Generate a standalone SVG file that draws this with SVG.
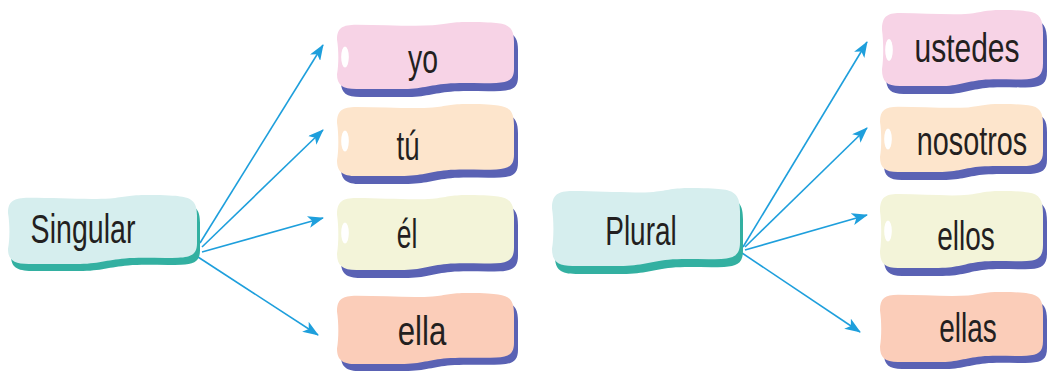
<svg xmlns="http://www.w3.org/2000/svg" xmlns:xlink="http://www.w3.org/1999/xlink" width="1049" height="371" viewBox="0 0 1049 371">
<defs>
<style>
.lbl{font-family:"Liberation Sans",Arial,sans-serif;font-size:40px;fill:#231f20;text-anchor:middle}
.sh{fill:#5a62b4}
.tsh{fill:#33b0a1}
.hl{fill:#ffffff}
.c-cyan{fill:#d6eeee}
.c-pink{fill:#f7d3e6}
.c-peach{fill:#fde5cc}
.c-lime{fill:#f3f4d9}
.c-salmon{fill:#fbcdb9}
.arr{stroke:#1e9fdc;stroke-width:1.6;fill:none;marker-end:url(#ah)}
</style>
<path id="blob" d="M0,26 C0,9 3,4 11,4 C26,4 42,7 54,5 C62,3 64,0 74,0 C84,0 88,1 91,2 C98,4 100,12 100,30 L100,70 C100,86 97,90 90,91 C80,92 70,90 62,92 C52,94 48,100 36,100 L11,100 C3,100 0,94 0,78 C1,64 1,42 0,26 Z"/>
<marker id="ah" viewBox="0 0 16 12" refX="15" refY="6" markerWidth="16" markerHeight="12" markerUnits="userSpaceOnUse" orient="auto">
<path d="M0,0 L16,6 L0,12 L4,6 Z" fill="#1e9fdc"/>
</marker>
</defs>
<rect width="1049" height="371" fill="#ffffff"/>

<g id="connectors">
<line class="arr" x1="200" y1="243" x2="323" y2="45"/>
<line class="arr" x1="202" y1="247" x2="323" y2="130"/>
<line class="arr" x1="202" y1="252" x2="323" y2="218"/>
<line class="arr" x1="198" y1="257" x2="318" y2="335"/>
<line class="arr" x1="743" y1="247" x2="867" y2="42"/>
<line class="arr" x1="745" y1="247" x2="867" y2="128"/>
<line class="arr" x1="745" y1="250" x2="867" y2="215"/>
<line class="arr" x1="742" y1="253" x2="860" y2="332"/>
</g>

<g id="singular" transform="translate(8,195)">
<use xlink:href="#blob" class="tsh" transform="translate(3,7) scale(1.89,0.69)"/>
<use xlink:href="#blob" class="c-cyan" transform="scale(1.89,0.69)"/>
<text class="lbl" transform="translate(75,48) scale(0.714,1)">Singular</text>
</g>

<g id="plural" transform="translate(552,188)">
<use xlink:href="#blob" class="tsh" transform="translate(3,8) scale(1.88,0.78)"/>
<use xlink:href="#blob" class="c-cyan" transform="scale(1.88,0.78)"/>
<text class="lbl" transform="translate(89,57) scale(0.70,1)">Plural</text>
</g>

<g id="yo" transform="translate(337,22)">
<use xlink:href="#blob" class="sh" transform="translate(4,8) scale(1.77,0.67)"/>
<use xlink:href="#blob" class="c-pink" transform="scale(1.77,0.67)"/>
<ellipse class="hl" cx="8" cy="35" rx="3.8" ry="10.5"/>
<text class="lbl" transform="translate(86,51) scale(0.71,1)">yo</text>
</g>

<g id="tu" transform="translate(337,104)">
<use xlink:href="#blob" class="sh" transform="translate(4,8) scale(1.77,0.72)"/>
<use xlink:href="#blob" class="c-peach" transform="scale(1.77,0.72)"/>
<ellipse class="hl" cx="8" cy="37" rx="3.8" ry="10.5"/>
<text class="lbl" transform="translate(71,56) scale(0.69,1)">tú</text>
</g>

<g id="el" transform="translate(337,195)">
<use xlink:href="#blob" class="sh" transform="translate(4,8) scale(1.77,0.75)"/>
<use xlink:href="#blob" class="c-lime" transform="scale(1.77,0.75)"/>
<ellipse class="hl" cx="8" cy="38" rx="3.8" ry="10.5"/>
<text class="lbl" transform="translate(70,53) scale(0.66,1)">él</text>
</g>

<g id="ella" transform="translate(337,293)">
<use xlink:href="#blob" class="sh" transform="translate(4,7) scale(1.77,0.71)"/>
<use xlink:href="#blob" class="c-salmon" transform="scale(1.77,0.71)"/>
<text class="lbl" transform="translate(85,52) scale(0.78,1)">ella</text>
</g>

<g id="ustedes" transform="translate(882,10)">
<use xlink:href="#blob" class="sh" transform="translate(4,8) scale(1.61,0.76)"/>
<use xlink:href="#blob" class="c-pink" transform="scale(1.61,0.76)"/>
<ellipse class="hl" cx="7" cy="40" rx="3.8" ry="11"/>
<text class="lbl" transform="translate(85,52) scale(0.75,1)">ustedes</text>
</g>

<g id="nosotros" transform="translate(880,104)">
<use xlink:href="#blob" class="sh" transform="translate(4,8) scale(1.63,0.68)"/>
<use xlink:href="#blob" class="c-peach" transform="scale(1.63,0.68)"/>
<ellipse class="hl" cx="8" cy="35" rx="3.8" ry="10.5"/>
<text class="lbl" transform="translate(92,51) scale(0.72,1)">nosotros</text>
</g>

<g id="ellos" transform="translate(880,191)">
<use xlink:href="#blob" class="sh" transform="translate(4,8) scale(1.63,0.77)"/>
<use xlink:href="#blob" class="c-lime" transform="scale(1.63,0.77)"/>
<ellipse class="hl" cx="8" cy="40" rx="3.8" ry="10.5"/>
<text class="lbl" transform="translate(86,59) scale(0.70,1)">ellos</text>
</g>

<g id="ellas" transform="translate(880,292)">
<use xlink:href="#blob" class="sh" transform="translate(4,7) scale(1.63,0.70)"/>
<use xlink:href="#blob" class="c-salmon" transform="scale(1.63,0.70)"/>
<text class="lbl" transform="translate(88,50) scale(0.70,1)">ellas</text>
</g>
</svg>
